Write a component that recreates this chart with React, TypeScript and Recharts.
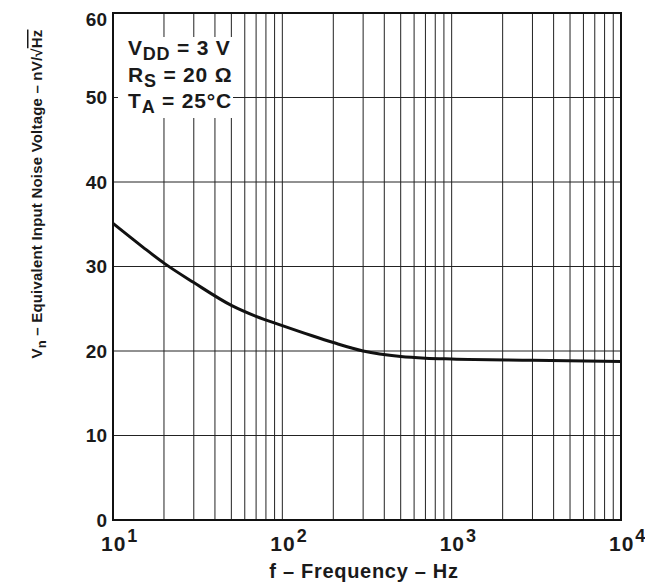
import { CartesianGrid, Label, Line, LineChart, ReferenceArea, XAxis, YAxis } from "recharts";

// frequency (Hz) vs equivalent input noise voltage (nV/√Hz)
const freq = [10, 15, 20, 30, 50, 70, 100, 150, 200, 300, 500, 700, 1000, 3000, 10000];
const noise = [35.1, 32.3, 30.4, 28.1, 25.4, 24.1, 23.0, 21.8, 21.0, 20.0, 19.35, 19.15, 19.05, 18.9, 18.75];

const xGrid = [
  10, 20, 30, 40, 50, 60, 70, 80, 90,
  100, 200, 300, 400, 500, 600, 700, 800, 900,
  1000, 2000, 3000, 4000, 5000, 6000, 7000, 8000, 9000, 10000,
];
const yTicks = [0, 10, 20, 30, 40, 50, 60];

const data = freq.map((f, i) => ({ f, vn: noise[i] }));

const FONT = "'Liberation Sans', Arial, Helvetica, sans-serif";

function FreqTick(props: any) {
  const { x, y, payload } = props;
  const exp = Math.log10(payload.value);
  if (Math.abs(exp - Math.round(exp)) > 1e-6) return <g />;
  return (
    <text x={x - 12} y={y + 23} fontFamily={FONT} fontWeight="bold" fontSize={21} letterSpacing={1} fill="#1a1a1a">
      10
      <tspan dx={1} dy={-9} fontSize={18}>
        {Math.round(exp)}
      </tspan>
    </text>
  );
}

function YTitle() {
  return (
    <text
      transform="translate(34,186) rotate(-90)"
      textAnchor="middle"
      fontFamily={FONT}
      fontWeight="bold"
      fontSize={15}
      letterSpacing={0.2}
      fill="#1a1a1a"
    >
      V<tspan dy={4} fontSize={13}>n</tspan>
      <tspan dy={-4}> – Equivalent Input Noise Voltage – nV/</tspan>
      <tspan>√</tspan>
      <tspan style={{ textDecoration: "overline" }}>Hz</tspan>
    </text>
  );
}

function XTitle() {
  return (
    <text x={356} y={570} textAnchor="middle" fontFamily={FONT} fontWeight="bold" fontSize={20} letterSpacing={0.7} fill="#1a1a1a">
      f – Frequency – Hz
    </text>
  );
}

export default function App() {
  return (
    <div style={{ position: "relative", width: 645, height: 578 }}>
      <LineChart width={645} height={578} data={data} margin={{ top: 5, right: 32, left: 55, bottom: 36 }}>
        <CartesianGrid stroke="#222" strokeWidth={1} horizontal vertical />
        <XAxis
          dataKey="f"
          type="number"
          scale="log"
          domain={[10, 10000]}
          ticks={xGrid}
          interval={0}
          tick={<FreqTick />}
          tickLine={false}
          axisLine={false}
          height={30}
          allowDataOverflow
        >
          <Label content={() => <XTitle />} />
        </XAxis>
        <YAxis
          type="number"
          domain={[0, 60]}
          ticks={yTicks}
          width={50}
          tickLine={false}
          axisLine={false}
          tickMargin={0}
          tick={{ fontFamily: FONT, fontWeight: "bold", fontSize: 19, fill: "#1a1a1a" }}
          label={{ content: () => <YTitle /> }}
        />
        <ReferenceArea x1={10} x2={10000} y1={0} y2={60} fill="none" stroke="#111" strokeWidth={2} ifOverflow="visible" />
        <Line type="monotone" dataKey="vn" stroke="#111" strokeWidth={3} dot={false} isAnimationActive={false} />
      </LineChart>
      <svg width={120} height={90} style={{ position: "absolute", left: 110, top: 29 }}>
        <rect x={0} y={0} width={115} height={81} fill="#fff" />
        <g fontFamily={FONT} fontWeight="bold" fontSize={21} letterSpacing={0.8} fill="#1a1a1a">
          <text x={10} y={18}>
            V<tspan dy={5} fontSize={18}>DD</tspan>
            <tspan dy={-5}> = 3 V</tspan>
          </text>
          <text x={10} y={45}>
            R<tspan dy={5} fontSize={18}>S</tspan>
            <tspan dy={-5}> = 20 Ω</tspan>
          </text>
          <text x={10} y={71}>
            T<tspan dy={5} fontSize={18}>A</tspan>
            <tspan dy={-5}> = 25°C</tspan>
          </text>
        </g>
      </svg>
    </div>
  );
}
